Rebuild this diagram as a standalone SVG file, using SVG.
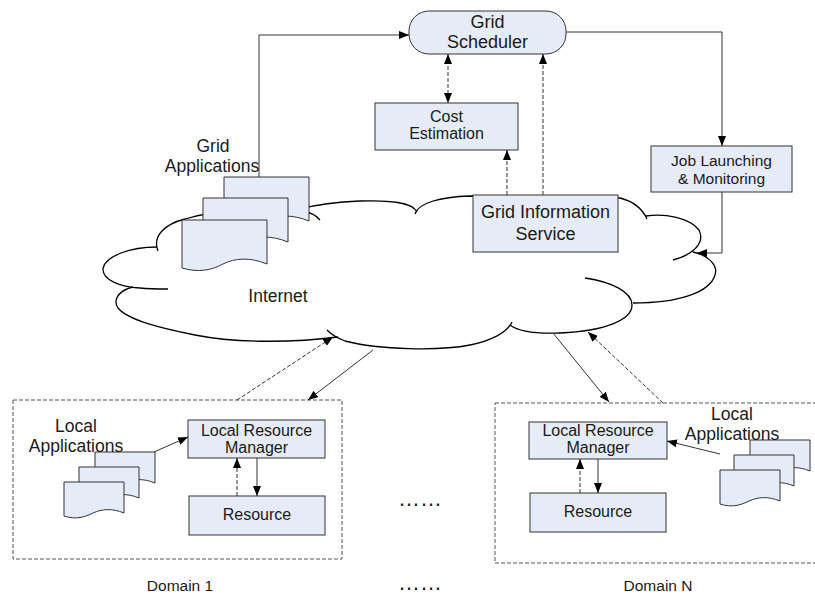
<svg xmlns="http://www.w3.org/2000/svg" xmlns:xlink="http://www.w3.org/1999/xlink" width="815" height="599" viewBox="0 0 815 599">
<style>
.box{fill:#e6ecf7;stroke:#333;stroke-width:1}
.doc{fill:#e6ecf7;stroke:#333;stroke-width:1}
.cl{fill:none;stroke:#000;stroke-width:1.3}
.c{fill:none;stroke:#333;stroke-width:1}
.d{stroke-dasharray:4 2}
.dom{fill:none;stroke:#555;stroke-width:1;stroke-dasharray:4 2}
text{font-family:"Liberation Sans",Arial,sans-serif;fill:#1a1a1a;text-anchor:middle}
.f18{font-size:18px}.f16{font-size:16px}.f15{font-size:15.5px}.f17{font-size:17.5px}
</style>
<defs>
<marker id="ah" viewBox="0 0 10 8" refX="10" refY="4" markerWidth="10" markerHeight="8" markerUnits="userSpaceOnUse" orient="auto-start-reverse"><path d="M0,0 L10,4 L0,8 z" fill="#000"/></marker>
<path id="docG" class="doc" d="M0,0 H85 V44 C68,37 53,38 41,44 C30,50 17,53 0,48 Z"/>
<path id="docL" class="doc" d="M0,0 H60 V31 C48,26 38,27 29,31 C21,35 12,38 0,34 Z"/>
</defs>

<g id="internet">
<path class="cl" d="M158,251 C152,236 165,224 185,219 C215,210 270,205 300,210 C310,212 316,215 320,220"/>
<path class="cl" d="M417,212 C412,202 390,200 360,201 C335,202 315,205 300,209"/>
<path class="cl" d="M415,214 C418,203 440,197 470,196 L620,198 C632,201 642,208 647,219"/>
<path class="cl" d="M646,216 C665,213 690,218 699,230 C705,242 695,254 673,260"/>
<path class="cl" d="M693,252 C710,256 718,266 715,275 C710,292 680,303 633,303"/>
<path class="cl" d="M585,278 C612,282 632,292 632,305 C632,320 605,331 560,333 C535,334 518,331 510,325"/>
<path class="cl" d="M512,322 C507,333 490,341 470,345 C440,351 380,350 345,341 C337,338 331,334 327,330"/>
<path class="cl" d="M338,337 C300,342 240,344 195,335 C160,328 128,320 118,308 C112,299 120,290 133,287"/>
<path class="cl" d="M157,247 C130,247 106,256 103,268 C102,280 120,287 140,288 C150,289 160,289 168,289"/>
<text class="f17" x="278" y="302">Internet</text>
</g>

<g id="domain1">
<rect class="dom" x="13" y="400" width="329" height="159"/>
<text class="f15" x="180" y="591">Domain 1</text>
</g>
<g id="domainN">
<rect class="dom" x="495" y="403" width="330" height="160"/>
<text class="f15" x="658" y="591">Domain N</text>
</g>

<g id="grid-applications">
<use xlink:href="#docG" x="224" y="177"/>
<use xlink:href="#docG" x="203" y="198"/>
<use xlink:href="#docG" x="182" y="220"/>
<text class="f17" x="213" y="152">Grid</text>
<text class="f17" x="212" y="172">Applications</text>
</g>

<g id="local-apps-1">
<use xlink:href="#docL" x="95" y="452"/>
<use xlink:href="#docL" x="79" y="467"/>
<use xlink:href="#docL" x="64" y="482"/>
<text class="f17" x="76" y="432">Local</text>
<text class="f17" x="76" y="452">Applications</text>
</g>

<g id="local-apps-n">
<use xlink:href="#docL" x="750" y="440"/>
<use xlink:href="#docL" x="734" y="455"/>
<use xlink:href="#docL" x="720" y="470"/>
<text class="f17" x="732" y="420">Local</text>
<text class="f17" x="732" y="440">Applications</text>
</g>

<g id="grid-scheduler">
<rect class="box" x="409" y="11" width="157" height="43" rx="20" ry="20"/>
<text class="f18" x="487.5" y="28">Grid</text>
<text class="f18" x="487.5" y="48">Scheduler</text>
</g>

<g id="cost-estimation">
<rect class="box" x="375" y="103" width="143" height="47"/>
<text class="f16" x="446.5" y="122">Cost</text>
<text class="f16" x="446.5" y="139">Estimation</text>
</g>

<g id="grid-information-service">
<rect class="box" x="473" y="195" width="145" height="57"/>
<text class="f18" x="545.5" y="218">Grid Information</text>
<text class="f18" x="545.5" y="240">Service</text>
</g>

<g id="job-launching">
<rect class="box" x="651" y="146" width="141" height="46"/>
<text class="f15" x="721.5" y="166">Job Launching</text>
<text class="f15" x="721.5" y="184">&amp; Monitoring</text>
</g>

<g id="lrm-1">
<rect class="box" x="188" y="420" width="137" height="38"/>
<text class="f16" x="256.5" y="436">Local Resource</text>
<text class="f16" x="256.5" y="453">Manager</text>
</g>
<g id="resource-1">
<rect class="box" x="189" y="496" width="136" height="39"/>
<text class="f16" x="257" y="520">Resource</text>
</g>

<g id="lrm-n">
<rect class="box" x="529" y="422" width="138" height="37"/>
<text class="f16" x="598" y="436">Local Resource</text>
<text class="f16" x="598" y="453">Manager</text>
</g>
<g id="resource-n">
<rect class="box" x="530" y="493" width="136" height="39"/>
<text class="f16" x="598" y="517">Resource</text>
</g>

<g id="connectors">
<path class="c" d="M259,177 V35 H409" marker-end="url(#ah)"/>
<path class="c" d="M566,32 H722 V146" marker-end="url(#ah)"/>
<path class="c" d="M722,192 V253 H697" marker-end="url(#ah)"/>
<path class="c d" d="M448,54 V103" marker-start="url(#ah)" marker-end="url(#ah)"/>
<path class="c d" d="M507,195 V150" marker-end="url(#ah)"/>
<path class="c d" d="M543,195 V54" marker-end="url(#ah)"/>
<path class="c d" d="M237,400 L333,337" marker-end="url(#ah)"/>
<path class="c" d="M373,350 L308,400" marker-end="url(#ah)"/>
<path class="c" d="M553,333 L609,402" marker-end="url(#ah)"/>
<path class="c d" d="M663,403 L588,332" marker-end="url(#ah)"/>
<path class="c" d="M154,452 L188,437" marker-end="url(#ah)"/>
<path class="c" d="M720,454 L667,441" marker-end="url(#ah)"/>
<path class="c" d="M257,458 V496" marker-end="url(#ah)"/>
<path class="c d" d="M237,496 V458" marker-end="url(#ah)"/>
<path class="c" d="M598,459 V493" marker-end="url(#ah)"/>
<path class="c d" d="M580,493 V459" marker-end="url(#ah)"/>
</g>

<text x="420" y="506" style="font-size:22px">……</text>
<text x="420" y="590" style="font-size:22px">……</text>
</svg>
